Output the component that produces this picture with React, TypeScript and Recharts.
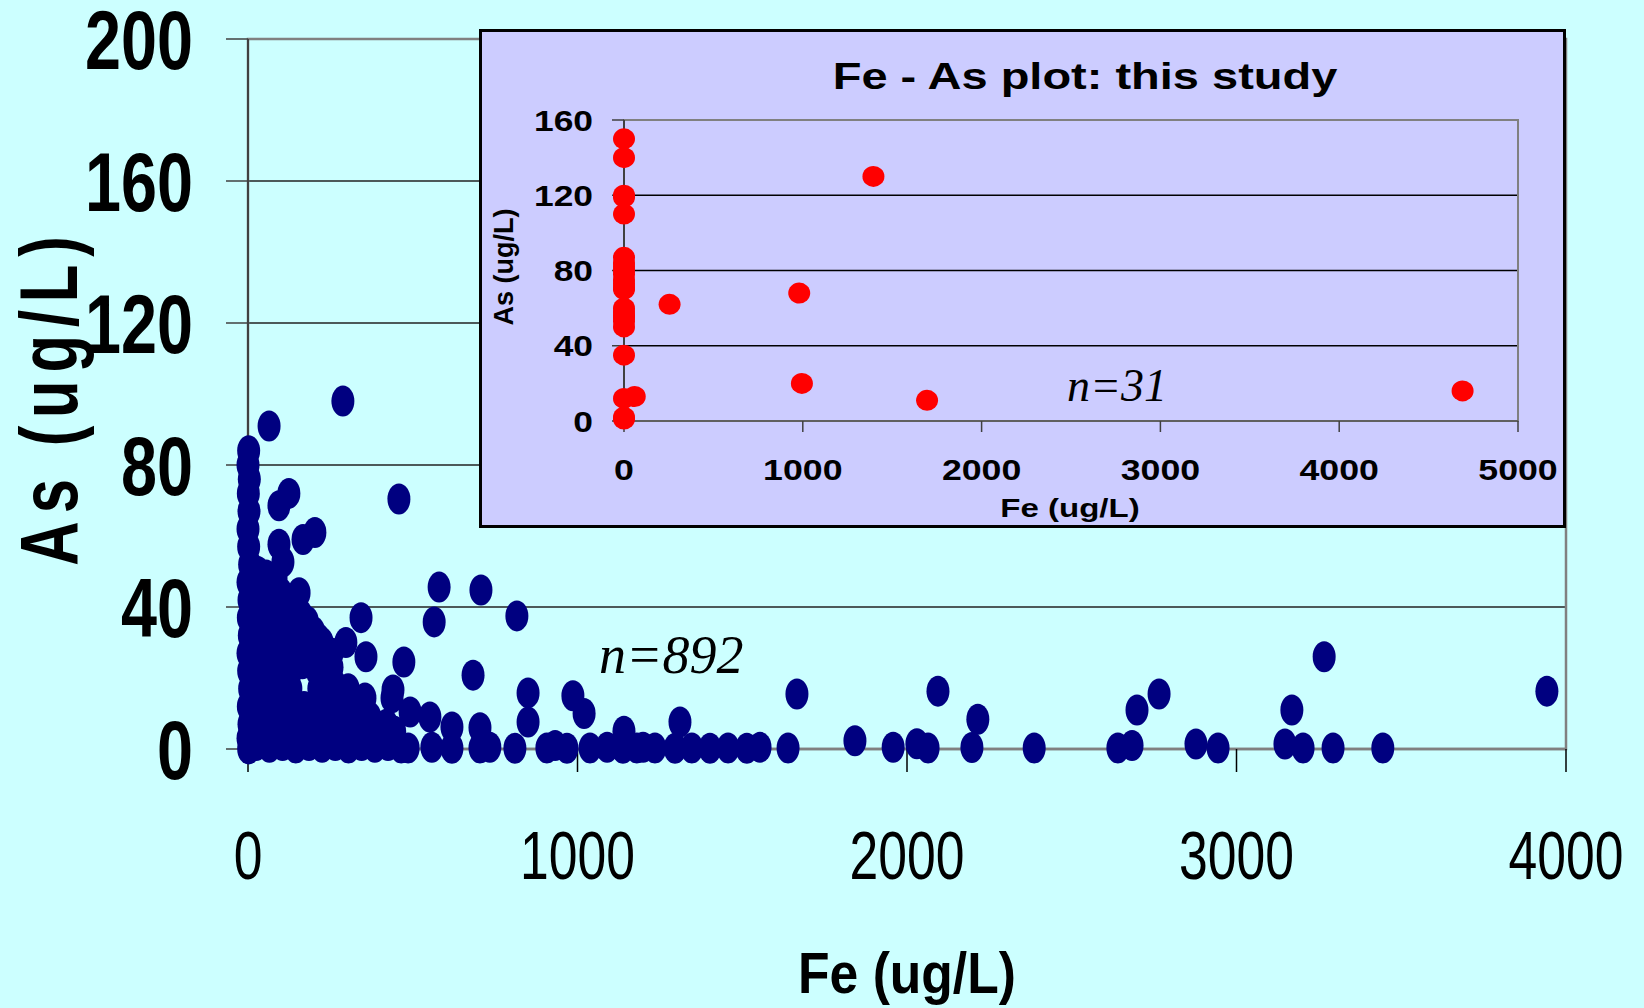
import React from 'react';
import { ScatterChart, Scatter, XAxis, YAxis, CartesianGrid, ReferenceArea } from 'recharts';

// Regional survey wells, [Fe, As] in ug/L
const zeroFeColumn: [number, number][] = [
  [2, 84], [0, 80], [4, 76], [1, 72], [3, 67], [0, 62], [2, 57], [5, 52], [0, 47], [3, 42],
  [1, 37], [4, 32], [0, 27], [2, 22], [5, 17], [1, 12], [3, 7], [0, 3], [2, 0],
];

const lowFeCluster: [number, number][] = [
  [30, 50], [55, 49],
  [35, 45], [75, 46], [100, 44],
  [30, 40], [65, 41], [100, 39], [135, 40], [160, 38],
  [40, 35], [80, 36], [120, 34], [165, 35], [200, 33],
  [30, 30], [70, 31], [110, 29], [150, 30], [190, 28], [225, 30], [255, 27],
  [40, 25], [85, 24], [125, 26], [165, 24], [215, 25], [255, 23],
  [30, 20], [70, 19], [110, 21], [230, 20], [265, 18],
  [40, 15], [85, 14], [120, 16], [230, 14], [270, 15], [310, 13],
  [30, 10], [70, 9], [110, 11], [150, 10], [190, 9], [230, 10], [270, 8], [320, 10], [370, 9],
  [40, 5], [85, 4], [130, 6], [175, 5], [220, 4], [265, 5], [310, 4], [355, 5], [400, 4], [445, 5],
  [25, 1], [65, 0.5], [105, 1], [145, 0.3], [185, 1], [225, 0.5], [265, 1], [305, 0.3], [345, 1],
  [385, 0.5], [425, 1], [465, 0.3],
];

// wells sitting between the rows above
const lowFeInfill: [number, number][] = [
  [20, 47], [60, 47], [85, 48],
  [20, 42], [50, 43], [85, 42], [120, 42],
  [20, 37], [60, 38], [100, 37], [140, 37], [180, 36],
  [20, 32], [55, 33], [95, 32], [135, 32], [175, 32], [215, 31],
  [20, 27], [55, 28], [100, 27], [145, 27], [190, 26], [235, 26],
  [20, 22], [55, 22], [90, 22], [130, 22], [210, 22], [250, 21],
  [20, 17], [60, 17], [100, 18], [130, 17], [215, 17], [250, 17],
  [20, 12], [55, 12], [90, 12], [130, 12], [170, 12], [210, 12], [250, 12], [290, 11], [340, 12],
  [20, 7], [60, 7], [100, 8], [150, 7], [200, 7], [245, 7], [290, 7], [335, 7], [380, 6], [420, 7],
  [20, 3], [45, 2.5], [85, 2.5], [125, 3], [165, 2.5], [205, 3], [245, 2.5], [285, 3], [325, 2.5],
  [365, 3], [405, 2.5], [445, 2.5],
];

const scatteredWells: [number, number][] = [
  [64, 91], [288, 98], [124, 72], [94, 68.5], [94, 57.7], [106, 52.7], [203, 61], [167, 59],
  [458, 70.4], [155, 44], [343, 37], [297, 30], [358, 26], [473, 24.5], [580, 45.6], [707, 44.8],
  [565, 35.8], [816, 37.5], [683, 20.8], [850, 15.8], [850, 7.6], [986, 15], [1020, 10],
  [1311, 7.6], [355, 14.4], [437, 14.4], [440, 16.6], [304, 17], [492, 10.4], [552, 9],
  [619, 6.2], [704, 6], [1141, 5], [1666, 15.5],
];

const baselineWells: [number, number][] = [
  [486, 0.3], [558, 0.5], [619, 0.2], [704, 0.3], [734, 0.5], [810, 0.2], [907, 0.3], [932, 1],
  [968, 0.2], [1038, 0.3], [1090, 0.5], [1138, 0.2], [1180, 0.3], [1199, 0.5], [1235, 0.3],
  [1296, 0.2], [1347, 0.3], [1402, 0.2], [1457, 0.3], [1514, 0.2], [1554, 0.5], [1639, 0.3],
];

const highFeWells: [number, number][] = [
  [1842, 2.3], [1958, 0.5], [2030, 1.5], [2064, 0.3], [2094, 16.3], [2197, 0.4], [2215, 8.4],
  [2386, 0.3], [2640, 0.3], [2683, 1], [2698, 11], [2765, 15.5], [2877, 1.4], [2944, 0.3],
  [3147, 1.4], [3168, 11], [3202, 0.3], [3266, 26], [3293, 0.3], [3444, 0.3], [3942, 16.3],
];

// This study's samples, [Fe, As] in ug/L
const studyLowFe: [number, number][] = [
  [0, 150], [0, 140], [0, 120], [0, 119], [0, 110], [0, 87], [0, 84], [0, 82], [0, 80], [0, 78],
  [0, 75], [0, 73], [0, 71], [0, 70], [0, 60], [0, 58], [0, 56], [0, 55], [0, 53], [0, 50],
  [0, 35], [0, 12], [60, 13], [0, 2], [0, 1],
];
const studyHighFe: [number, number][] = [
  [255, 62], [980, 68], [995, 20], [1395, 130], [1695, 11], [4690, 16],
];

const surveyFeTicks = [0, 1000, 2000, 3000, 4000];
const surveyAsTicks = [0, 40, 80, 120, 160, 200];
const studyFeTicks = [0, 1000, 2000, 3000, 4000, 5000];
const studyAsTicks = [0, 40, 80, 120, 160];

const toRows = (pairs: [number, number][]) => pairs.map(([fe, as]) => ({ fe, as }));
const surveyRows = toRows([
  ...zeroFeColumn, ...lowFeCluster, ...lowFeInfill, ...scatteredWells, ...baselineWells, ...highFeWells,
]);
const studyRows = toRows([...studyLowFe, ...studyHighFe]);

const SANS = '"Liberation Sans", Arial, sans-serif';
const SERIF = '"Liberation Serif", "Times New Roman", serif';

const NavyDot = (p: any) => <ellipse cx={p.cx} cy={p.cy} rx={11.5} ry={15.5} fill="#000080" />;
const RedDot = (p: any) => <ellipse cx={p.cx} cy={p.cy} rx={11} ry={10.5} fill="#FF0000" />;

const SurveyYTick = ({ x, y, payload }: any) => (
  <text transform={`translate(${x - 33},${y + 30}) scale(0.77,1)`} textAnchor="end"
    fontFamily={SANS} fontWeight="bold" fontSize={84} fill="#000">
    {payload.value}
  </text>
);

const SurveyXTick = ({ x, y, payload }: any) => (
  <text transform={`translate(${x},${y + 107}) scale(0.76,1)`} textAnchor="middle"
    fontFamily={SANS} fontSize={68} fill="#000">
    {payload.value}
  </text>
);

const StudyYTick = ({ x, y, payload }: any) => (
  <text transform={`translate(${x - 19},${y + 10.5}) scale(1.18,1)`} textAnchor="end"
    fontFamily={SANS} fontWeight="bold" fontSize={30} fill="#000">
    {payload.value}
  </text>
);

const StudyXTick = ({ x, y, payload }: any) => (
  <text transform={`translate(${x},${y + 48}) scale(1.19,1)`} textAnchor="middle"
    fontFamily={SANS} fontWeight="bold" fontSize={30} fill="#000">
    {payload.value}
  </text>
);

function SurveyChart() {
  return (
    <ScatterChart width={1644} height={1008} margin={{ top: 39, right: 78, bottom: 0, left: 0 }}>
      <CartesianGrid vertical={false} stroke="#222" strokeWidth={1.5} />
      <ReferenceArea x1={0} x2={4000} y1={0} y2={200} fill="none" stroke="#808080" strokeWidth={2.5} />
      <XAxis type="number" dataKey="fe" domain={[0, 4000]} ticks={surveyFeTicks} interval={0}
        height={259} tickSize={23} tickMargin={0} tick={<SurveyXTick />}
        axisLine={{ stroke: '#808080', strokeWidth: 2.5 }} tickLine={{ stroke: '#000', strokeWidth: 1.5 }} />
      <YAxis type="number" dataKey="as" domain={[0, 200]} ticks={surveyAsTicks} interval={0}
        width={248} tickSize={22} tickMargin={0} tick={<SurveyYTick />}
        axisLine={{ stroke: '#404040', strokeWidth: 2 }} tickLine={{ stroke: '#404040', strokeWidth: 1.5 }} />
      <Scatter data={surveyRows} shape={NavyDot} isAnimationActive={false} />
      <text transform="translate(77,397) rotate(-90) scale(0.75,1)" textAnchor="middle"
        fontFamily={SANS} fontWeight="bold" fontSize={82} letterSpacing={10.5} fill="#000">
        As (ug/L)
      </text>
      <text transform="translate(907,993) scale(0.89,1)" textAnchor="middle"
        fontFamily={SANS} fontWeight="bold" fontSize={58} fill="#000">
        Fe (ug/L)
      </text>
      <text x={599} y={673} fontFamily={SERIF} fontStyle="italic" fontSize={54} fill="#000">
        n=892
      </text>
    </ScatterChart>
  );
}

function StudyChart() {
  return (
    <ScatterChart width={1087} height={499} margin={{ top: 91, right: 48, bottom: 0, left: 0 }}>
      <CartesianGrid vertical={false} stroke="#000" strokeWidth={1.5} />
      <ReferenceArea x1={0} x2={5000} y1={0} y2={160} fill="none" stroke="#808080" strokeWidth={2} />
      <XAxis type="number" dataKey="fe" domain={[0, 5000]} ticks={studyFeTicks} interval={0}
        height={107} tickSize={11} tickMargin={0} tick={<StudyXTick />}
        axisLine={{ stroke: '#606060', strokeWidth: 2 }} tickLine={{ stroke: '#404040', strokeWidth: 1.5 }} />
      <YAxis type="number" dataKey="as" domain={[0, 160]} ticks={studyAsTicks} interval={0}
        width={145} tickSize={12} tickMargin={0} tick={<StudyYTick />}
        axisLine={{ stroke: '#404040', strokeWidth: 2 }} tickLine={{ stroke: '#404040', strokeWidth: 1.5 }} />
      <Scatter data={studyRows} shape={RedDot} isAnimationActive={false} />
      <text transform="translate(606,60) scale(1.27,1)" textAnchor="middle"
        fontFamily={SANS} fontWeight="bold" fontSize={37} fill="#000">
        Fe - As plot: this study
      </text>
      <text transform="translate(34,238) rotate(-90)" textAnchor="middle"
        fontFamily={SANS} fontWeight="bold" fontSize={27} fill="#000">
        As (ug/L)
      </text>
      <text transform="translate(591,488) scale(1.27,1)" textAnchor="middle"
        fontFamily={SANS} fontWeight="bold" fontSize={26} fill="#000">
        Fe (ug/L)
      </text>
      <text x={588} y={372} fontFamily={SERIF} fontStyle="italic" fontSize={46} fill="#000">
        n=31
      </text>
    </ScatterChart>
  );
}

export default function App() {
  return (
    <div style={{ position: 'absolute', left: 0, top: 0, width: 1644, height: 1008, background: '#CCFFFF', overflow: 'hidden' }}>
      <SurveyChart />
      <div style={{
        position: 'absolute', left: 479, top: 29, width: 1087, height: 499,
        background: '#CCCCFF', border: '3px solid #000', boxSizing: 'border-box',
      }} />
      <div style={{ position: 'absolute', left: 479, top: 29 }}>
        <StudyChart />
      </div>
    </div>
  );
}
